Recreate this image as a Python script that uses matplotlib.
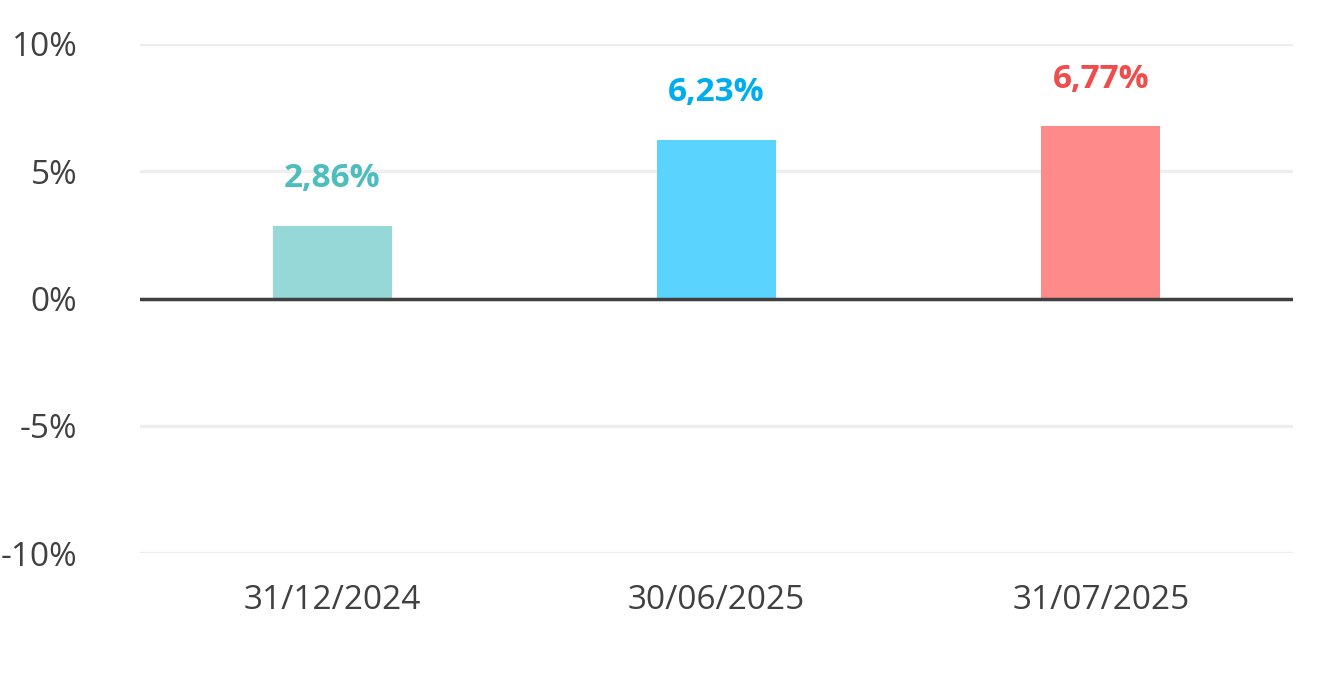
import matplotlib.pyplot as plt

dates = ["31/12/2024", "30/06/2025", "31/07/2025"]
values = [2.86, 6.23, 6.77]
labels = ["2,86%", "6,23%", "6,77%"]
bar_colors = ["#96D8D8", "#5BD3FF", "#FF8A8A"]
text_colors = ["#4DBDBD", "#00AEEF", "#F24B4B"]
yticks = [-10, -5, 0, 5, 10]

plt.rcParams['font.family'] = ['Open Sans', 'DejaVu Sans']

fig = plt.figure(figsize=(13.44, 6.74), dpi=100)
ax = fig.add_axes((140/1344, 1-553/674, 1153/1344, 509/674))

x = range(len(dates))
ax.bar(x, values, width=0.31, color=bar_colors, zorder=2)
for i, v in enumerate(values):
    ax.text(i, v + 1.2, labels[i], ha='center', va='bottom', fontsize=24,
            fontweight='bold', color=text_colors[i])

ax.set_xlim(-0.5, 2.5)
ax.set_ylim(-10, 10)
ax.set_yticks(yticks)
ax.set_yticklabels([f"{t}%" for t in yticks])
ax.set_xticks(list(x))
ax.set_xticklabels(dates)
ax.grid(axis='y', color='#EEEEEE', linewidth=2.5, zorder=0)
ax.axhline(0, color='#404040', linewidth=2.5, zorder=3)
for s in ax.spines.values():
    s.set_visible(False)
ax.tick_params(length=0, labelsize=24, colors='#404040')
ax.tick_params(axis='y', pad=45)
ax.tick_params(axis='x', pad=22)
for t in ax.get_yticklabels():
    t.set_horizontalalignment('right')

fig.savefig('out.png', dpi=100)
